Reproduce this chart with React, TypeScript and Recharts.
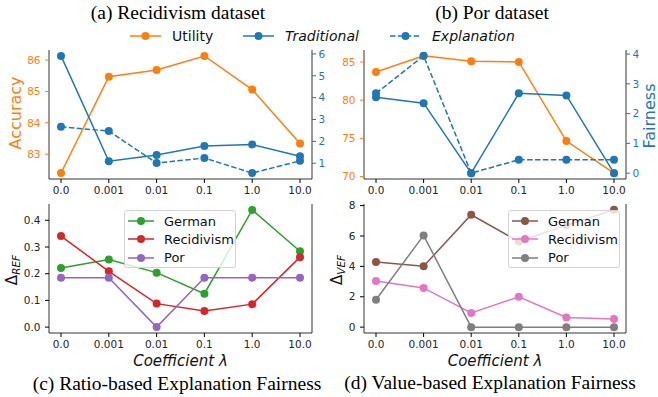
import React from "react";
import { LineChart, Line, XAxis, YAxis, Legend } from "recharts";

const ORANGE = "#ff7f0e";
const BLUE = "#1f77b4";
const GREEN = "#2ca02c";
const RED = "#d62728";
const PURPLE = "#9467bd";
const BROWN = "#8c564b";
const PINK = "#e377c2";
const GRAY = "#7f7f7f";

const lambdas = ["0.0", "0.001", "0.01", "0.1", "1.0", "10.0"];

// (a) Recidivism dataset
const recUtility = [82.4, 85.47, 85.68, 86.13, 85.06, 83.34];
const recTraditional = [5.91, 1.09, 1.38, 1.79, 1.86, 1.32];
const recExplanation = [2.67, 2.47, 1.01, 1.24, 0.55, 1.11];

// (b) Por dataset
const porUtility = [83.68, 85.8, 85.09, 85.0, 74.64, 70.44];
const porTraditional = [2.55, 2.35, 0, 2.68, 2.61, 0];
const porExplanation = [2.68, 3.94, 0, 0.45, 0.45, 0.45];

// (c) ratio-based explanation fairness
const refGerman = [0.221, 0.253, 0.204, 0.125, 0.439, 0.284];
const refRecidivism = [0.341, 0.209, 0.088, 0.06, 0.086, 0.262];
const refPor = [0.185, 0.185, 0, 0.185, 0.185, 0.185];

// (d) value-based explanation fairness
const vefGerman = [4.28, 4.01, 7.4, 5.64, 6.7, 7.72];
const vefRecidivism = [3.04, 2.58, 0.93, 2.0, 0.64, 0.53];
const vefPor = [1.8, 6.04, 0, 0, 0, 0];

const accTicksA = [83, 84, 85, 86];
const fairTicksA = [1, 2, 3, 4, 5, 6];
const accTicksB = [70, 75, 80, 85];
const fairTicksB = [0, 1, 2, 3, 4];
const refTicks = [0, 0.1, 0.2, 0.3, 0.4];
const vefTicks = [0, 2, 4, 6, 8];

const rowsA = lambdas.map((lam, i) => ({ lam, utility: recUtility[i], traditional: recTraditional[i], explanation: recExplanation[i] }));
const rowsB = lambdas.map((lam, i) => ({ lam, utility: porUtility[i], traditional: porTraditional[i], explanation: porExplanation[i] }));
const rowsC = lambdas.map((lam, i) => ({ lam, german: refGerman[i], recidivism: refRecidivism[i], por: refPor[i] }));
const rowsD = lambdas.map((lam, i) => ({ lam, german: vefGerman[i], recidivism: vefRecidivism[i], por: vefPor[i] }));

const TXT = "#262626";
const DASH = "5.5 2.4";
const frame = { stroke: "#000", strokeWidth: 0.8 };

const dot = (c: string) => ({ r: 4, fill: c, stroke: c, strokeWidth: 0 });

type Item = { name: string; color: string; dashed?: boolean; italic?: boolean };

const Swatch = ({ color, dashed, w }: { color: string; dashed?: boolean; w: number }) => (
  <svg width={w} height={10} style={{ flex: "none" }}>
    <line x1={0} y1={5} x2={w} y2={5} stroke={color} strokeWidth={1.5} strokeDasharray={dashed ? DASH : undefined} />
    <circle cx={w / 2} cy={5} r={4} fill={color} />
  </svg>
);

const topItems: Item[] = [
  { name: "Utility", color: ORANGE },
  { name: "Traditional", color: BLUE, italic: true },
  { name: "Explanation", color: BLUE, dashed: true, italic: true },
];
const topWidths = [113, 147, 140];

const TopLegend = () => (
  <div style={{ display: "flex", height: 18, alignItems: "center" }}>
    {topItems.map((it, i) => (
      <div key={it.name} style={{ display: "flex", alignItems: "center", width: topWidths[i] }}>
        <Swatch color={it.color} dashed={it.dashed} w={31} />
        <span style={{ marginLeft: 11, fontSize: 14, color: "#111", fontStyle: it.italic ? "italic" : "normal", whiteSpace: "nowrap" }}>{it.name}</span>
      </div>
    ))}
  </div>
);

const BoxLegend = ({ items }: { items: Item[] }) => (
  <div style={{ width: 112, height: 58, boxSizing: "border-box", border: "1px solid #d3d3d3", borderRadius: 3, background: "rgba(255,255,255,0.8)", padding: "1px 0 0 3px" }}>
    {items.map((it) => (
      <div key={it.name} style={{ display: "flex", alignItems: "center", height: 18.3 }}>
        <Swatch color={it.color} w={26} />
        <span style={{ marginLeft: 10, fontSize: 13, color: "#111" }}>{it.name}</span>
      </div>
    ))}
  </div>
);

const xAxes = () => [
  <XAxis key="x" dataKey="lam" height={21} padding={{ left: 12, right: 12 }} tickSize={4} tickMargin={4} interval={0}
    tick={{ fill: TXT, fontSize: 10.5 }} tickLine={{ stroke: "#000" }} axisLine={frame} />,
  <XAxis key="xt" xAxisId="top" dataKey="lam" orientation="top" height={0} tick={false} tickLine={false} axisLine={frame} />,
];

const PanelTop = ({ rows, left, right, accDomain, accTicks, fairDomain, fairTicks, withLegend }: any) => (
  <LineChart width={left.w + right.w} height={200} data={rows} margin={{ top: 50, right: 0, bottom: 0, left: 0 }}>
    {xAxes()}
    <YAxis yAxisId="left" width={left.axis} domain={accDomain} ticks={accTicks} allowDataOverflow tickSize={4} tickMargin={4.5}
      tick={{ fill: ORANGE, fontSize: 10.5 }} tickLine={{ stroke: ORANGE }} axisLine={frame} />
    <YAxis yAxisId="right" orientation="right" width={right.axis} domain={fairDomain} ticks={fairTicks} allowDataOverflow tickSize={4} tickMargin={2.5}
      tick={{ fill: BLUE, fontSize: 10.5 }} tickLine={{ stroke: BLUE }} axisLine={frame} />
    <Line yAxisId="left" dataKey="utility" stroke={ORANGE} strokeWidth={1.5} dot={dot(ORANGE)} activeDot={false} isAnimationActive={false} />
    <Line yAxisId="right" dataKey="traditional" stroke={BLUE} strokeWidth={1.5} dot={dot(BLUE)} activeDot={false} isAnimationActive={false} />
    <Line yAxisId="right" dataKey="explanation" stroke={BLUE} strokeWidth={1.5} strokeDasharray={DASH} dot={dot(BLUE)} activeDot={false} isAnimationActive={false} />
    {withLegend && (
      <Legend layout="horizontal" align="center" verticalAlign="middle" content={() => <TopLegend />}
        wrapperStyle={{ left: 130, top: 27, width: 420, height: 18 }} />
    )}
  </LineChart>
);

const PanelBottom = ({ rows, left, right, domain, ticks, colors, legendLeft }: any) => {
  const items: Item[] = [
    { name: "German", color: colors[0] },
    { name: "Recidivism", color: colors[1] },
    { name: "Por", color: colors[2] },
  ];
  return (
    <LineChart width={left.w + right.w} height={154} data={rows} margin={{ top: 4, right: 0, bottom: 0, left: 0 }}>
      {xAxes()}
      <YAxis yAxisId="left" width={left.axis} domain={domain} ticks={ticks} allowDataOverflow tickSize={4} tickMargin={4.5}
        tickFormatter={(v: number) => (domain[1] < 1 ? v.toFixed(1) : String(v))}
        tick={{ fill: TXT, fontSize: 10.5 }} tickLine={{ stroke: "#000" }} axisLine={frame} />
      <YAxis yAxisId="frame" orientation="right" width={right.axis} domain={[0, 1]} tick={false} tickLine={false} axisLine={frame} />
      <Line yAxisId="left" dataKey="german" stroke={colors[0]} strokeWidth={1.5} dot={dot(colors[0])} activeDot={false} isAnimationActive={false} />
      <Line yAxisId="left" dataKey="recidivism" stroke={colors[1]} strokeWidth={1.5} dot={dot(colors[1])} activeDot={false} isAnimationActive={false} />
      <Line yAxisId="left" dataKey="por" stroke={colors[2]} strokeWidth={1.5} dot={dot(colors[2])} activeDot={false} isAnimationActive={false} />
      <Legend layout="horizontal" align="center" verticalAlign="middle" content={() => <BoxLegend items={items} />}
        wrapperStyle={{ left: legendLeft, top: 10, width: 112, height: 58 }} />
    </LineChart>
  );
};

const serif = "'Liberation Serif', 'Times New Roman', serif";

export default function App() {
  const leftCol = { w: 312, axis: 49 };
  const leftColR = { w: 18, axis: 18 };
  const rightCol = { w: 296, axis: 34 };
  const rightColR = { w: 32, axis: 32 };
  return (
    <div style={{ position: "absolute", left: 0, top: 0, width: 658, height: 397, background: "#fff", fontFamily: "'DejaVu Sans', sans-serif", overflow: "hidden" }}>
      <div style={{ position: "absolute", left: 0, top: 0 }}>
        <PanelTop rows={rowsA} left={leftCol} right={leftColR} accDomain={[82.21, 86.32]} accTicks={accTicksA}
          fairDomain={[0.28, 6.18]} fairTicks={fairTicksA} withLegend />
      </div>
      <div style={{ position: "absolute", left: 330, top: 0 }}>
        <PanelTop rows={rowsB} left={rightCol} right={rightColR} accDomain={[69.67, 86.57]} accTicks={accTicksB}
          fairDomain={[-0.197, 4.137]} fairTicks={fairTicksB} />
      </div>
      <div style={{ position: "absolute", left: 0, top: 200 }}>
        <PanelBottom rows={rowsC} left={leftCol} right={leftColR} domain={[-0.022, 0.461]} ticks={refTicks}
          colors={[GREEN, RED, PURPLE]} legendLeft={124} />
      </div>
      <div style={{ position: "absolute", left: 330, top: 200 }}>
        <PanelBottom rows={rowsD} left={rightCol} right={rightColR} domain={[-0.386, 8.106]} ticks={vefTicks}
          colors={[BROWN, PINK, GRAY]} legendLeft={178} />
      </div>
      <svg width={658} height={397} style={{ position: "absolute", left: 0, top: 0, pointerEvents: "none" }}>
        <g fontFamily={serif} fontSize={19.5} fill="#000" textAnchor="middle">
          <text x={178} y={19}>(a) Recidivism dataset</text>
          <text x={492} y={19}>(b) Por dataset</text>
          <text x={177} y={390}>(c) Ratio-based Explanation Fairness</text>
          <text x={490} y={389}>(d) Value-based Explanation Fairness</text>
        </g>
        <g fontSize={15} fontStyle="italic" fill="#111" textAnchor="middle">
          <text x={180.5} y={366}>Coefficient λ</text>
          <text x={495} y={366}>Coefficient λ</text>
        </g>
        <text transform="translate(21,113) rotate(-90)" textAnchor="middle" fontSize={16} fill={ORANGE}>Accuracy</text>
        <text transform="translate(655,116) rotate(-90)" textAnchor="middle" fontSize={16} fill={BLUE}>Fairness</text>
        <text transform="translate(17,270) rotate(-90)" textAnchor="middle" fontSize={15} fill="#111">
          Δ<tspan fontSize={10.5} fontStyle="italic" dy={3}>REF</tspan>
        </text>
        <text transform="translate(342,270) rotate(-90)" textAnchor="middle" fontSize={15} fill="#111">
          Δ<tspan fontSize={10.5} fontStyle="italic" dy={3}>VEF</tspan>
        </text>
      </svg>
    </div>
  );
}
